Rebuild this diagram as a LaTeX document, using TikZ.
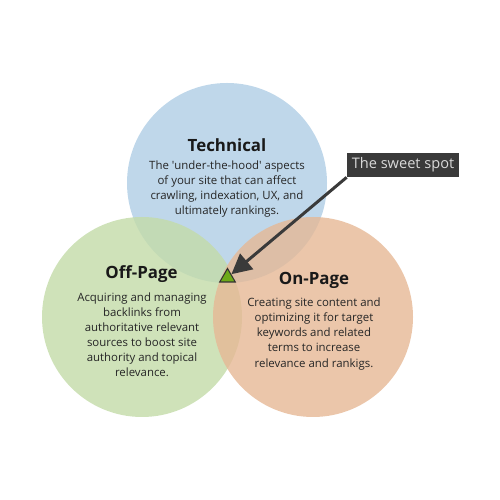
\documentclass[tikz,border=0pt]{standalone}
\usepackage{fontspec}
\setmainfont{Open Sans}
\usetikzlibrary{arrows.meta,positioning,shapes.geometric}

\definecolor{techblue}{RGB}{175,205,229}
\definecolor{offgreen}{RGB}{195,219,168}
\definecolor{onorange}{RGB}{230,184,149}
\definecolor{spotgreen}{RGB}{110,170,25}
\definecolor{darkgrey}{RGB}{58,58,58}

\tikzset{
  area/.style={circle,minimum size=4cm,inner sep=0pt,fill opacity=.8},
  heading/.style={font=\fontsize{9.6}{11}\selectfont\bfseries,text=black!90},
  blurb/.style={align=center,font=\fontsize{6.5}{8.55}\selectfont,text=black!85},
  callout/.style={fill=darkgrey,text=black!15,minimum width=2.24cm,minimum height=.48cm,
    inner sep=0pt,font=\fontsize{8.3}{10}\selectfont},
  pointer/.style={draw=darkgrey,line width=1.7pt,-{Triangle[length=.4cm,width=.4cm]}}
}

\begin{document}
\begin{tikzpicture}
\useasboundingbox (0,0) rectangle (10,10);
\node[area,fill=techblue] (tech) at (4.54,6.34) {};
\node[area,fill=offgreen] (off) at (2.84,3.66) {};
\node[area,fill=onorange] (on) at (6.26,3.66) {};

\node[heading] (techtitle) at (4.54,7.10) {Technical};
\node[blurb] (techtext) at (4.54,6.21) {The \textquotesingle under-the-hood\textquotesingle{} aspects\\of your site that can affect\\crawling, indexation, UX, and\\ultimately rankings.};

\node[heading] (offtitle) at (2.83,4.52) {Off-Page};
\node[blurb] (offtext) at (2.84,3.31) {Acquiring and managing\\backlinks from\\authoritative relevant\\sources to boost site\\authority and topical\\relevance.};

\node[heading] (ontitle) at (6.28,4.40) {On-Page};
\node[blurb] (ontext) at (6.28,3.32) {Creating site content and\\optimizing it for target\\keywords and related\\terms to increase\\relevance and rankigs.};

% sweet spot marker
\node[regular polygon,regular polygon sides=3,minimum size=.36cm,inner sep=0pt,
  fill=spotgreen,draw=black!80,line width=.6pt] (spot) at (4.55,4.45) {};
\node[callout] (label) at (8.06,6.70) {The sweet spot};
\draw[pointer] (label.south west) -- (spot);
\end{tikzpicture}
\end{document}
